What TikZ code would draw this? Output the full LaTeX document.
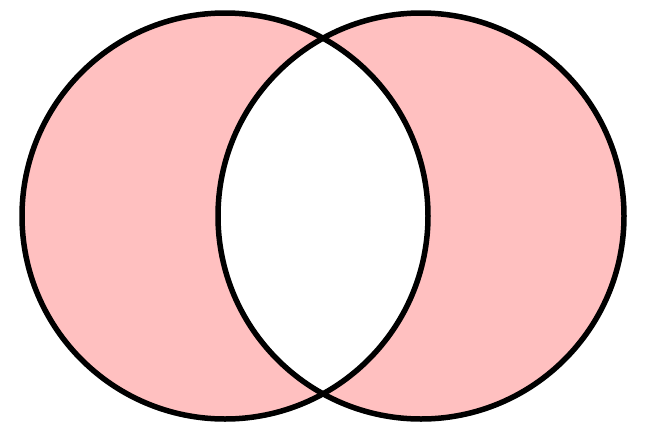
\documentclass[tikz,border=0pt]{standalone}
\usepackage{tikz}
\definecolor{setpink}{HTML}{FFC0C0}

\tikzset{
  setline/.style={draw=black, line width=5.5pt},
  setfill/.style={fill=setpink, even odd rule}
}

\begin{document}
\begin{tikzpicture}[x=1pt, y=-1pt]
    \useasboundingbox (0, 0) rectangle (648, 440);
    \coordinate (setA) at (225, 216);
    \coordinate (setB) at (421, 216);

    % only one of the two sets
    \fill[setfill] (setA) circle (203) (setB) circle (203);

    \draw[setline] (setA) circle (203);
    \draw[setline] (setB) circle (203);
  \end{tikzpicture}
\end{document}
